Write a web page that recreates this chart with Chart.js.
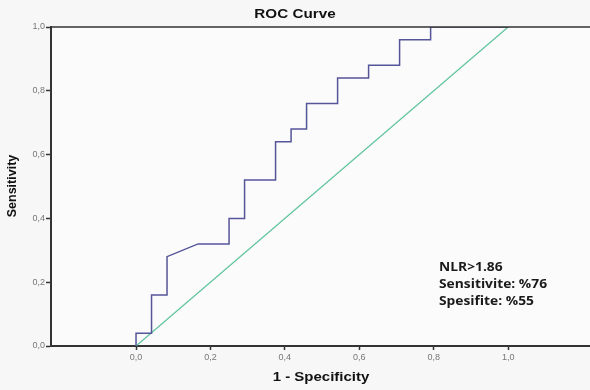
<!DOCTYPE html>
<html><head><meta charset="utf-8">
<script src="https://cdn.jsdelivr.net/npm/chart.js@4/dist/chart.umd.min.js"></script>
<style>html,body{margin:0;padding:0;background:#f7f7f7;}#wrap{width:590px;height:390px;}</style>
</head><body><div id="wrap"><canvas id="c" width="590" height="390"></canvas></div>
<script>
const rocX = [0, 0, 0.0417, 0.0417, 0.0833, 0.0833, 0.1667, 0.25, 0.25, 0.2917, 0.2917, 0.375, 0.375, 0.4167, 0.4167, 0.4583, 0.4583, 0.5417, 0.5417, 0.625, 0.625, 0.7083, 0.7083, 0.7917, 0.7917, 1.0];
const rocY = [0, 0.04, 0.04, 0.16, 0.16, 0.28, 0.32, 0.32, 0.40, 0.40, 0.52, 0.52, 0.64, 0.64, 0.68, 0.68, 0.76, 0.76, 0.84, 0.84, 0.88, 0.88, 0.96, 0.96, 1.0, 1.0];
const refX = [0, 1];
const refY = [0, 1];
const tickVals = [0, 0.2, 0.4, 0.6, 0.8, 1.0];
const titleText = "ROC Curve";
const xTitle = "1 - Specificity";
const yTitle = "Sensitivity";
const noteLines = ["NLR>1.86", "Sensitivite: %76", "Spesifite: %55"];

const fmt = v => v.toFixed(1).replace('.', ',');
const XSTRETCH = 1.2;

function stretchText(ctx, text, x, y, sx) {
  ctx.save();
  ctx.translate(x, y);
  ctx.scale(sx, 1);
  ctx.fillText(text, 0, 0);
  ctx.restore();
}

const deco = {
  id: 'deco',
  beforeDraw(chart) {
    const {ctx, chartArea: a} = chart;
    ctx.save();
    ctx.fillStyle = '#f7f7f7';
    ctx.fillRect(0, 0, chart.width, chart.height);
    ctx.fillStyle = '#fbfbfb';
    ctx.fillRect(a.left, a.top, a.right - a.left, a.bottom - a.top);
    ctx.restore();
  },
  afterDraw(chart) {
    const {ctx, chartArea: a} = chart;
    ctx.save();
    ctx.strokeStyle = '#333';
    ctx.lineWidth = 1.5;
    ctx.beginPath(); ctx.moveTo(a.left, a.top); ctx.lineTo(a.right, a.top); ctx.stroke();
    ctx.fillStyle = '#111';
    ctx.textAlign = 'center'; ctx.textBaseline = 'middle';
    ctx.font = 'bold 12px "Liberation Sans", Arial, sans-serif';
    stretchText(ctx, titleText, 295, 15, 1.27);
    ctx.font = 'bold 12.5px "Liberation Sans", Arial, sans-serif';
    stretchText(ctx, xTitle, 321, 378, 1.2);
    ctx.save();
    ctx.translate(13, 186); ctx.rotate(-Math.PI / 2);
    ctx.font = 'bold 12.5px "Liberation Sans", Arial, sans-serif';
    ctx.fillText(yTitle, 0, 0);
    ctx.restore();
    ctx.textAlign = 'left';
    ctx.font = 'bold 12px "Open Sans", "Liberation Sans", sans-serif';
    ctx.fillStyle = '#1a1a1a';
    noteLines.forEach((t, i) => stretchText(ctx, t, 439, 268 + i * 17, 1.15));
    ctx.restore();
  }
};

new Chart(document.getElementById('c'), {
  type: 'scatter',
  data: {
    datasets: [
      { data: rocX.map((x, i) => ({x, y: rocY[i]})), showLine: true, borderColor: '#55559a', borderWidth: 1.5, pointRadius: 0, tension: 0 },
      { data: refX.map((x, i) => ({x, y: refY[i]})), showLine: true, borderColor: '#5cc49a', borderWidth: 1.2, pointRadius: 0 }
    ]
  },
  options: {
    responsive: false, animation: false, devicePixelRatio: 1,
    layout: { padding: { top: 27, right: 0, left: 0, bottom: 0 } },
    plugins: { legend: { display: false }, tooltip: { enabled: false }, title: { display: false } },
    scales: {
      x: {
        type: 'linear', min: -0.2285, max: 1.22,
        afterBuildTicks: s => { s.ticks = tickVals.map(v => ({value: v})); },
        afterFit: s => { s.height = 44; },
        grid: { display: true, drawOnChartArea: false, drawTicks: true, tickLength: 4, color: '#333', tickWidth: 1.5 },
        border: { display: true, color: '#333', width: 2 },
        ticks: { callback: v => fmt(v), color: '#777', font: { size: 9, family: '"Liberation Sans", Arial' }, padding: 2, maxRotation: 0, autoSkip: false }
      },
      y: {
        type: 'linear', min: 0, max: 1,
        afterBuildTicks: s => { s.ticks = tickVals.map(v => ({value: v})); },
        afterFit: s => { s.width = 51; },
        grid: { display: true, drawOnChartArea: false, drawTicks: true, tickLength: 5, color: '#333', tickWidth: 1.5 },
        border: { display: true, color: '#333', width: 2 },
        ticks: { callback: v => fmt(v), color: '#777', font: { size: 9, family: '"Liberation Sans", Arial' }, padding: 1, autoSkip: false }
      }
    }
  },
  plugins: [deco]
});
</script>
</body></html>
